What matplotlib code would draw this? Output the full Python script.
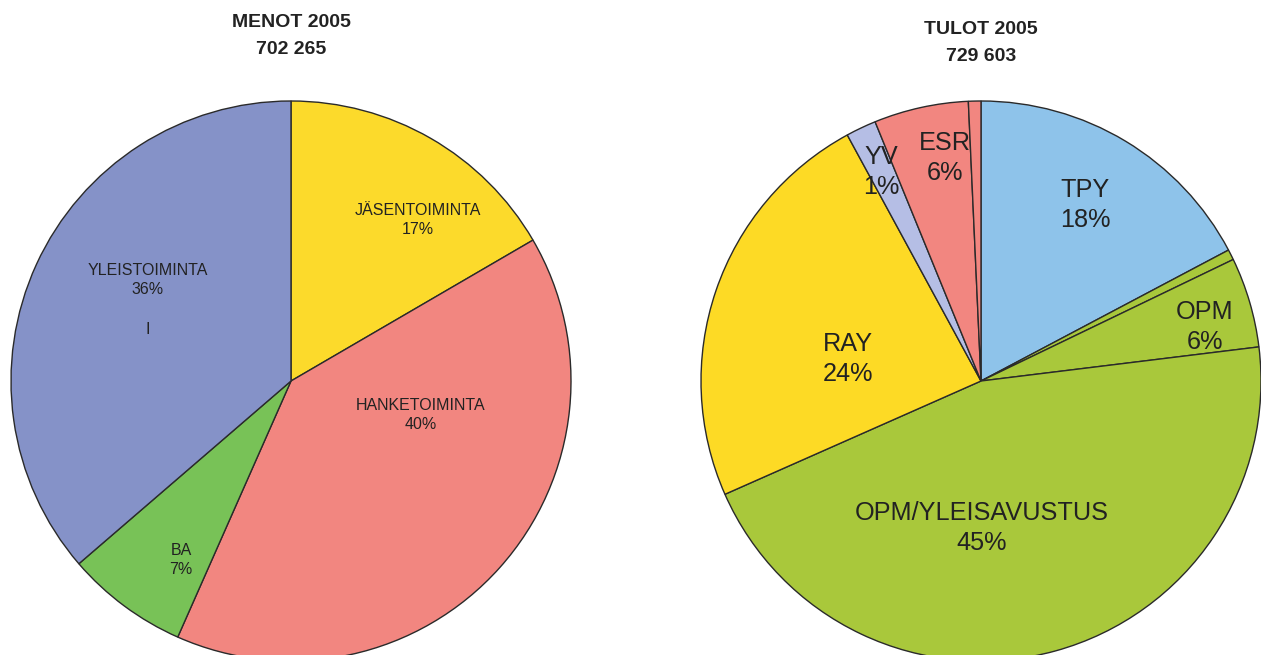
import matplotlib
matplotlib.use('Agg')
import matplotlib.pyplot as plt

# MENOT 2005 (expenses)
menot_labels = ['JÄSENTOIMINTA', 'HANKETOIMINTA', 'BA', 'YLEISTOIMINTA']
menot_pct = ['17%', '40%', '7%', '36%']
menot_values = [16.6, 40.0, 7.05, 36.3]
menot_total = '702 265'

# TULOT 2005 (income), unlabeled slivers have empty names
tulot_labels = ['TPY', '', 'OPM', 'OPM/YLEISAVUSTUS', 'RAY', 'YV', 'ESR', '']
tulot_pct = ['18%', '', '6%', '45%', '24%', '1%', '6%', '']
tulot_values = [17.25, 0.6, 5.2, 45.3, 23.7, 1.75, 5.45, 0.72]
tulot_total = '729 603'

menot_colors = ['#FCDA2B', '#F28680', '#78C257', '#8592C8']
tulot_colors = ['#8EC3EA', '#A9C83B', '#A9C83B', '#A9C83B', '#FDDA25',
                '#B5BEE5', '#F28680', '#F28680']

W, H = 1261, 655
fig = plt.figure(figsize=(W / 100, H / 100), dpi=100)
ax = fig.add_axes([0, 0, 1, 1])

def draw_pie(values, colors, cx, cy, r):
    # y axis is flipped, so counterclock=True draws clockwise on screen
    ax.pie(values, colors=colors, startangle=-90, counterclock=True,
           center=(cx, cy), radius=r, frame=True,
           wedgeprops=dict(edgecolor='#2a2a2a', linewidth=1.0))

draw_pie(menot_values, menot_colors, 291, 381, 280)
draw_pie(tulot_values, tulot_colors, 981, 381, 280)
ax.set_xlim(0, W)
ax.set_ylim(H, 0)
ax.axis('off')

# label offsets from each pie centre (pixels)
menot_pos = [(127, -161), (130, 34), (-110, 179), (-143, -101)]
tulot_pos = [(104, -176), None, (224, -54), (1, 147), (-133, -22),
             (-100, -209), (-36, -223), None]

for lab, pct, pos in zip(menot_labels, menot_pct, menot_pos):
    ax.text(291 + pos[0], 381 + pos[1], lab + '\n' + pct, ha='center', va='center',
            fontsize=11.5, family='Liberation Sans', color='#222222',
            linespacing=1.35, zorder=5)
ax.text(148, 330, 'I', ha='center', va='center', fontsize=11.5,
        family='Liberation Sans', color='#222222', zorder=5)

for lab, pct, pos in zip(tulot_labels, tulot_pct, tulot_pos):
    if pos is None:
        continue
    ax.text(981 + pos[0], 381 + pos[1], lab + '\n' + pct, ha='center', va='center',
            fontsize=18.2, family='Liberation Sans', color='#222222',
            linespacing=1.36, zorder=5)

title_font = dict(family=['Liberation Sans Narrow', 'Liberation Sans'],
                  fontweight='bold', fontsize=14, color='#222222', ha='center',
                  va='center', linespacing=1.75)
ax.text(291, 36, 'MENOT 2005\n' + menot_total, **title_font)
ax.text(981, 43, 'TULOT 2005\n' + tulot_total, **title_font)

fig.savefig('out.png', dpi=100)
